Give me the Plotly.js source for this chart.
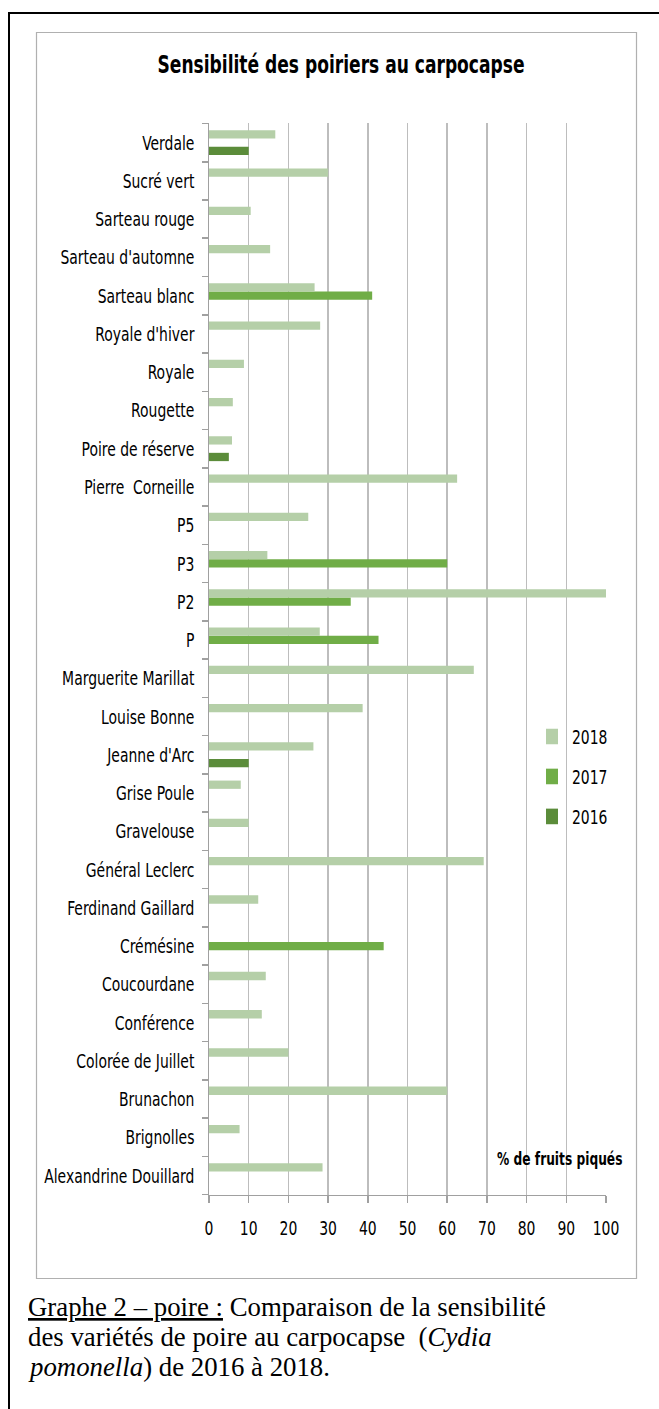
<!DOCTYPE html>
<html>
<head>
<meta charset="utf-8">
<script src="https://cdn.plot.ly/plotly-3.0.1.min.js"></script>
<style>
  html, body { margin: 0; padding: 0; background: #fff; overflow: hidden; }
  body { position: relative; width: 659px; height: 1409px; }
  #page, #chart { position: absolute; left: 0; top: 0; }
  /* the chart graphic is drawn with a vertical stretch, like the pasted figure */
  #chart { transform-origin: 0 0; }
</style>
</head>
<body>
<div id="page"></div>
<div id="chart"></div>
<script>
// Pear varieties, listed from the bottom of the chart to the top
const varieties = [
  "Alexandrine Douillard", "Brignolles", "Brunachon", "Colorée de Juillet",
  "Conférence", "Coucourdane", "Crémésine", "Ferdinand Gaillard",
  "Général Leclerc", "Gravelouse", "Grise Poule", "Jeanne d'Arc",
  "Louise Bonne", "Marguerite Marillat", "P", "P2", "P3", "P5",
  "Pierre\u00a0 Corneille", "Poire de réserve", "Rougette", "Royale",
  "Royale d'hiver", "Sarteau blanc", "Sarteau d'automne", "Sarteau rouge",
  "Sucré vert", "Verdale"
];

// % of fruits damaged by codling moth, per year (null = not observed)
const y2018 = [
  28.6, 7.7, 60, 20, 13.3, 14.3, null, 12.4, 69.2, 10, 8, 26.3,
  38.7, 66.7, 27.9, 100, 14.7, 25, 62.5, 5.8, 6, 8.8, 28, 26.6,
  15.4, 10.5, 30, 16.7
];
const y2017 = [
  null, null, null, null, null, null, 44, null, null, null, null, null,
  null, null, 42.7, 35.7, 60, null, null, null, null, null, null, 41.1,
  null, null, null, null
];
const y2016 = [
  null, null, null, null, null, null, null, null, null, null, null, 10,
  null, null, null, null, null, null, null, 5, null, null, null, null,
  null, null, null, 10
];

const xTicks = [0, 10, 20, 30, 40, 50, 60, 70, 80, 90, 100];

const NARROW = "DejaVu Sans Condensed, Liberation Sans Narrow, Liberation Sans, sans-serif";
const SERIF = "Liberation Serif, Times New Roman, serif";
const FS = 15.5;

// page size and plot area, in final pixels
const W = 659, H = 1409;
const L = 209, R = 606, T = 123, B = 1195;
const SY = 1.3;                       // vertical stretch of the chart graphic
const px2x = p => (p - L) / (R - L);
const px2y = p => (B - p) / (B - T);

/* ---------- page: frames and caption (not stretched) ---------- */
const pageLayout = {
  width: W, height: H, autosize: false,
  margin: { l: 0, r: 0, t: 0, b: 0, pad: 0 },
  paper_bgcolor: "rgba(0,0,0,0)",
  plot_bgcolor: "rgba(0,0,0,0)",
  xaxis: { visible: false, range: [0, W], fixedrange: true },
  yaxis: { visible: false, range: [H, 0], fixedrange: true },
  showlegend: false,
  shapes: [
    // outer page frame
    {
      type: "rect", xref: "x", yref: "y",
      x0: 9, x1: 720, y0: 13, y1: 1460,
      line: { color: "#000", width: 2 }, fillcolor: "rgba(0,0,0,0)"
    },
    // chart area frame
    {
      type: "rect", xref: "x", yref: "y",
      x0: 36.5, x1: 636.5, y0: 32.5, y1: 1278.5,
      line: { color: "#b0b0b0", width: 1.2 }, fillcolor: "rgba(0,0,0,0)"
    }
  ],
  annotations: [
    "<u>Graphe 2 – poire :</u> Comparaison de la sensibilité",
    "des variétés de poire au carpocapse  (<i>Cydia</i>",
    "<i>pomonella</i>) de 2016 à 2018."
  ].map((t, i) => ({
    text: t,
    xref: "x", yref: "y",
    x: 26, xanchor: "left",
    y: 1307 + 30 * i, yanchor: "middle",
    showarrow: false, align: "left",
    font: { family: SERIF, size: 26.8, color: "#000" }
  }))
};

Plotly.newPlot("page", [], pageLayout, { staticPlot: true, displayModeBar: false });

/* ---------- chart ---------- */
function barTrace(name, values, color, legendId) {
  return {
    type: "bar",
    orientation: "h",
    name: name,
    x: values,
    y: varieties,
    marker: { color: color, line: { width: 0 } },
    legend: legendId,
    showlegend: true,
    hoverinfo: "x+y+name"
  };
}

const data = [
  barTrace("2016", y2016, "#5b8c3a", "legend3"),
  barTrace("2017", y2017, "#70ad47", "legend2"),
  barTrace("2018", y2018, "#b5cfa8", "legend")
];

function legendAt(yPx) {
  return {
    visible: true,
    x: px2x(532), xanchor: "left",
    y: px2y(yPx), yanchor: "middle",
    bgcolor: "rgba(0,0,0,0)",
    borderwidth: 0,
    font: { family: NARROW, size: FS, color: "#000" },
    itemclick: false, itemdoubleclick: false
  };
}

const HC = H / SY;   // drawing height before the stretch

const layout = {
  width: W, height: HC,
  autosize: false,
  showlegend: true,
  margin: { l: L, r: W - R, t: T / SY, b: (H - B) / SY, pad: 0 },
  paper_bgcolor: "rgba(0,0,0,0)",
  plot_bgcolor: "rgba(0,0,0,0)",
  barmode: "group",
  bargap: 0.35,
  bargroupgap: 0,
  title: {
    text: "<b>Sensibilité des poiriers au carpocapse</b>",
    font: { family: NARROW, size: 19, color: "#000" },
    x: 341 / W, xanchor: "center", xref: "container",
    y: 1 - 64 / H, yanchor: "middle", yref: "container"
  },
  xaxis: {
    range: [0, 100],
    tickvals: xTicks,
    ticktext: xTicks.map(String),
    showgrid: true,
    gridcolor: "#bdbdbd",
    gridwidth: 1.5,
    zeroline: false,
    showline: true,
    linecolor: "#a0a0a0",
    linewidth: 1.2,
    ticks: "outside",
    ticklen: 7 / SY,
    tickcolor: "#a0a0a0",
    tickwidth: 1.5,
    ticklabelstandoff: 6,
    tickfont: { family: NARROW, size: FS, color: "#000" },
    fixedrange: true
  },
  yaxis: {
    type: "category",
    categoryorder: "array",
    categoryarray: varieties,
    showgrid: false,
    zeroline: false,
    showline: true,
    linecolor: "#a0a0a0",
    linewidth: 1.5,
    ticks: "outside",
    tickson: "boundaries",
    ticklen: 6,
    tickcolor: "#a0a0a0",
    tickwidth: 1.2,
    ticklabelstandoff: 10,
    tickfont: { family: NARROW, size: FS, color: "#000" },
    fixedrange: true
  },
  legend: legendAt(737),
  legend2: legendAt(777),
  legend3: legendAt(817),
  annotations: [
    {
      text: "<b>% de fruits piqués</b>",
      xref: "paper", yref: "paper",
      x: px2x(624), xanchor: "right",
      y: px2y(1158), yanchor: "middle",
      showarrow: false,
      font: { family: NARROW, size: 13.6, color: "#000" }
    }
  ]
};

const chartDiv = document.getElementById("chart");
chartDiv.style.transform = "scaleY(" + SY + ")";
Plotly.newPlot(chartDiv, data, layout, { staticPlot: true, displayModeBar: false });
</script>
</body>
</html>
